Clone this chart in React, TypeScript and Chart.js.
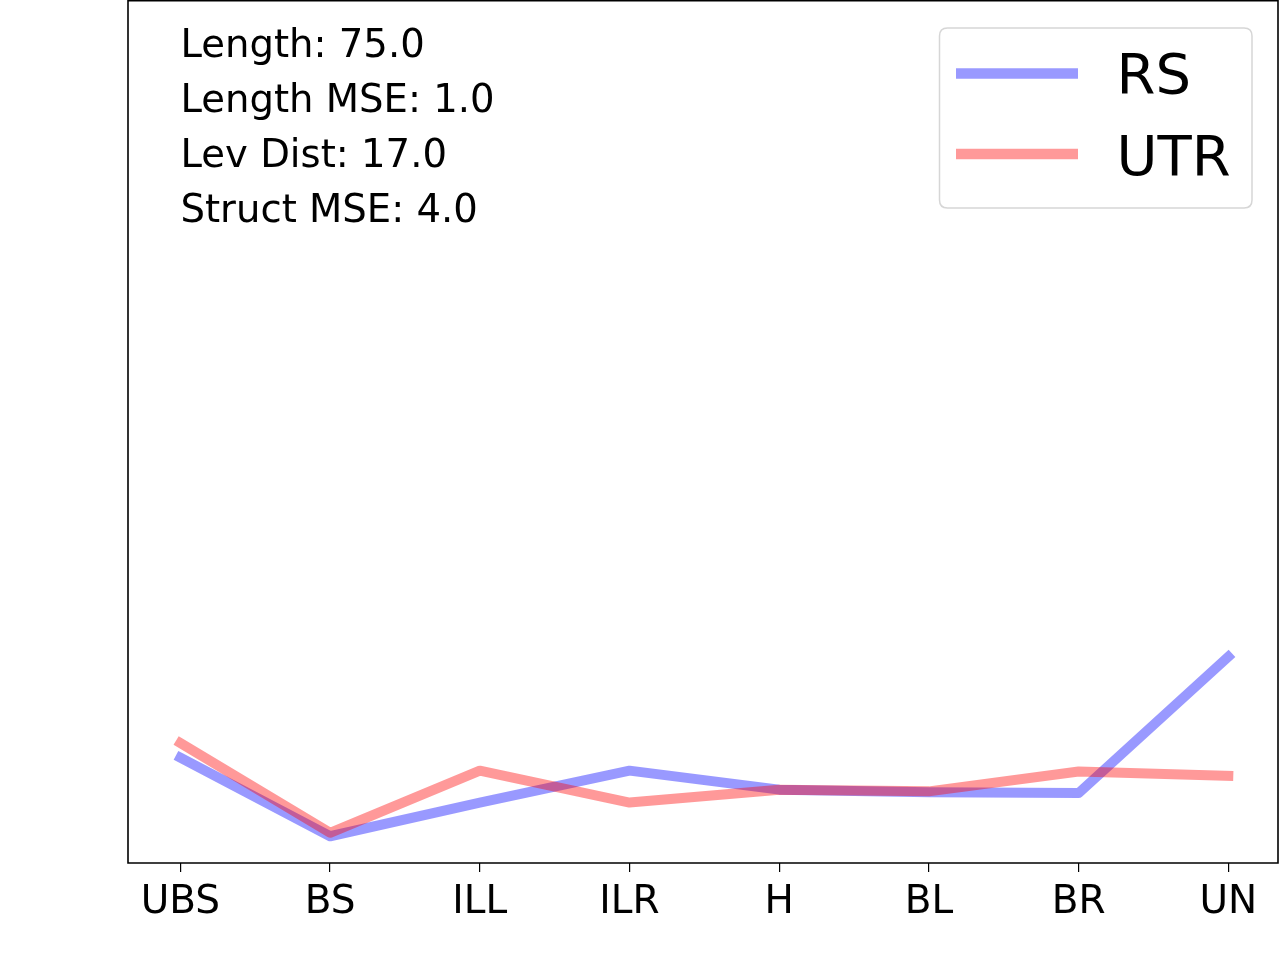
import React, { useEffect, useRef } from "react";
import { Chart, registerables } from "chart.js";

Chart.register(...registerables);

const CATEGORIES = ["UBS", "BS", "ILL", "ILR", "H", "BL", "BR", "UN"];
const RS_VALUES = [12.2, 3.1, 7.0, 10.7, 8.5, 8.2, 8.1, 23.9];
const UTR_VALUES = [13.9, 3.5, 10.7, 7.0, 8.5, 8.3, 10.6, 10.1];
const SERIES_LABELS = ["RS", "UTR"];
const SERIES_COLORS = ["rgba(0,0,255,0.4)", "rgba(255,0,0,0.4)"];
const STATS_LINES = ["Length: 75.0", "Length MSE: 1.0", "Lev Dist: 17.0", "Struct MSE: 4.0"];
const Y_MIN = 0;
const Y_MAX = 100;
const X_MIN = -0.35;
const X_MAX = 7.332;

const FONT = "'DejaVu Sans', sans-serif";

const decorPlugin = {
  id: "decor",
  afterDatasetsDraw(chart: any) {
    const { ctx, chartArea: a } = chart;
    ctx.save();
    ctx.strokeStyle = "#000";
    ctx.lineWidth = 1.6;
    ctx.beginPath();
    ctx.moveTo(a.left, a.top + 0.8);
    ctx.lineTo(a.right, a.top + 0.8);
    ctx.lineTo(a.right, a.bottom);
    ctx.lineTo(a.left, a.bottom);
    ctx.closePath();
    ctx.stroke();
    ctx.restore();
  },
  afterDraw(chart: any) {
    const { ctx } = chart;
    ctx.save();
    // stats text
    ctx.fillStyle = "#000";
    ctx.font = `38.6px ${FONT}`;
    ctx.textAlign = "left";
    ctx.textBaseline = "alphabetic";
    const baselines = [57, 112, 167, 222];
    STATS_LINES.forEach((t, i) => ctx.fillText(t, 180.5, baselines[i]));

    // legend frame
    const lx = 939.5, ly = 28, lw = 312.5, lh = 180, r = 8;
    ctx.beginPath();
    ctx.moveTo(lx + r, ly);
    ctx.lineTo(lx + lw - r, ly);
    ctx.quadraticCurveTo(lx + lw, ly, lx + lw, ly + r);
    ctx.lineTo(lx + lw, ly + lh - r);
    ctx.quadraticCurveTo(lx + lw, ly + lh, lx + lw - r, ly + lh);
    ctx.lineTo(lx + r, ly + lh);
    ctx.quadraticCurveTo(lx, ly + lh, lx, ly + lh - r);
    ctx.lineTo(lx, ly + r);
    ctx.quadraticCurveTo(lx, ly, lx + r, ly);
    ctx.closePath();
    ctx.fillStyle = "rgba(255,255,255,0.8)";
    ctx.fill();
    ctx.strokeStyle = "rgba(204,204,204,0.8)";
    ctx.lineWidth = 1.5;
    ctx.stroke();

    const handleY = [73.5, 154];
    const textBase = [93, 175];
    ctx.font = `56px ${FONT}`;
    SERIES_LABELS.forEach((lab, i) => {
      ctx.beginPath();
      ctx.strokeStyle = SERIES_COLORS[i];
      ctx.lineWidth = 10.5;
      ctx.lineCap = "butt";
      ctx.moveTo(956, handleY[i]);
      ctx.lineTo(1078, handleY[i]);
      ctx.stroke();
      ctx.fillStyle = "#000";
      ctx.fillText(lab, 1116.5, textBase[i]);
    });
    ctx.restore();
  },
};

export default function App() {
  const canvasRef = useRef<HTMLCanvasElement | null>(null);

  useEffect(() => {
    const canvas = canvasRef.current;
    if (!canvas) return;
    const toPoints = (vals: number[]) => vals.map((v, i) => ({ x: i, y: v }));
    const chart = new Chart(canvas, {
      type: "line",
      data: {
        datasets: [
          {
            label: SERIES_LABELS[0],
            data: toPoints(RS_VALUES),
            borderColor: SERIES_COLORS[0],
            borderWidth: 10,
            borderCapStyle: "square",
            borderJoinStyle: "round",
            pointRadius: 0,
            tension: 0,
            fill: false,
            order: 1,
          },
          {
            label: SERIES_LABELS[1],
            data: toPoints(UTR_VALUES),
            borderColor: SERIES_COLORS[1],
            borderWidth: 10,
            borderCapStyle: "square",
            borderJoinStyle: "round",
            pointRadius: 0,
            tension: 0,
            fill: false,
            order: 0,
          },
        ],
      },
      options: {
        animation: false,
        responsive: false,
        devicePixelRatio: 1,
        layout: { padding: { left: 128, right: 2, top: 0, bottom: 0 } },
        plugins: { legend: { display: false }, tooltip: { enabled: false } },
        scales: {
          x: {
            type: "linear",
            min: X_MIN,
            max: X_MAX,
            afterBuildTicks: (s: any) => {
              s.ticks = CATEGORIES.map((_, i) => ({ value: i }));
            },
            afterFit: (s: any) => {
              s.height = 97;
            },
            ticks: {
              autoSkip: false,
              maxRotation: 0,
              minRotation: 0,
              padding: 7,
              color: "#000",
              font: { family: FONT, size: 39 },
              callback: (v: any) => CATEGORIES[Math.round(Number(v))] ?? "",
            },
            grid: {
              display: true,
              drawOnChartArea: false,
              drawTicks: true,
              tickLength: 9,
              color: "#000",
              lineWidth: 1.2,
            },
            border: { display: false },
          },
          y: {
            type: "linear",
            display: false,
            min: Y_MIN,
            max: Y_MAX,
          },
        },
      },
      plugins: [decorPlugin],
    } as any);
    return () => chart.destroy();
  }, []);

  return (
    <div style={{ position: "fixed", left: 0, top: 0, width: 1280, height: 960, background: "#fff" }}>
      <canvas ref={canvasRef} width={1280} height={960} style={{ width: 1280, height: 960, display: "block" }} />
    </div>
  );
}
